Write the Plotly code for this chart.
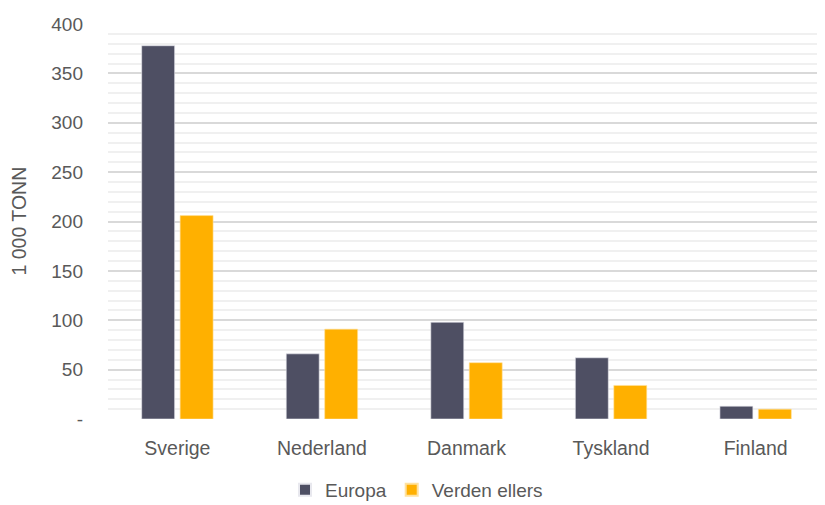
import plotly.graph_objects as go

# Land og mengder (1 000 tonn)
land = ["Sverige", "Nederland", "Danmark", "Tyskland", "Finland"]
europa = [378, 66, 98, 62, 13]
verden_ellers = [206, 91, 57, 34, 10]

y_ticks = [0, 50, 100, 150, 200, 250, 300, 350, 400]
y_ticktext = ["-", "50", "100", "150", "200", "250", "300", "350", "400"]

FONT = "Liberation Sans, Arial, sans-serif"
GREY = "#595959"

# siden har 8 px marg i body, så figuren gjøres litt mindre
W, H = 817, 497
L, T, B = 100, 16, 86
PLOT_W = W - L
PLOT_H = H - T - B

fig = go.Figure()
fig.add_trace(
    go.Bar(
        x=land,
        y=europa,
        name="Europa",
        marker=dict(color="#4e4f63", line=dict(color="#e8e8ee", width=0.6)),
    )
)
fig.add_trace(
    go.Bar(
        x=land,
        y=verden_ellers,
        name="Verden ellers",
        marker=dict(color="#ffb000", line=dict(color="#ffe2a0", width=0.6)),
    )
)

fig.update_layout(
    width=W,
    height=H,
    paper_bgcolor="white",
    plot_bgcolor="white",
    font=dict(family=FONT, size=19, color=GREY),
    barmode="group",
    bargap=0.468,
    bargroupgap=0.143,
    margin=dict(l=L, r=0, t=T, b=B, autoexpand=False),
    showlegend=True,
    legend=dict(
        orientation="h",
        xref="container",
        yref="paper",
        x=0.5,
        xanchor="center",
        y=-71 / PLOT_H,
        yanchor="middle",
        font=dict(size=19, color=GREY),
        itemsizing="constant",
    ),
)
fig.update_xaxes(
    range=[-0.48, 4.48],
    showgrid=False,
    showline=False,
    ticks="",
    tickfont=dict(size=19.5, color=GREY),
    ticklabelstandoff=15,
    automargin=False,
)
fig.update_yaxes(
    range=[0, 400],
    tickvals=y_ticks,
    ticktext=y_ticktext,
    showgrid=True,
    gridcolor="#d9d9d9",
    gridwidth=1.5,
    zeroline=False,
    showline=False,
    ticks="",
    tickfont=dict(size=19, color=GREY),
    ticklabelstandoff=24,
    minor=dict(dtick=10, showgrid=True, gridcolor="#f0f0f0", gridwidth=1.5),
    automargin=False,
)

# aksetittel plassert for seg selv
fig.add_annotation(
    text="1 000 TONN",
    xref="paper",
    yref="paper",
    x=-90 / PLOT_W,
    y=0.5,
    xanchor="center",
    yanchor="middle",
    textangle=-90,
    showarrow=False,
    font=dict(size=19.5, color=GREY),
)

fig.write_html("out.html")
